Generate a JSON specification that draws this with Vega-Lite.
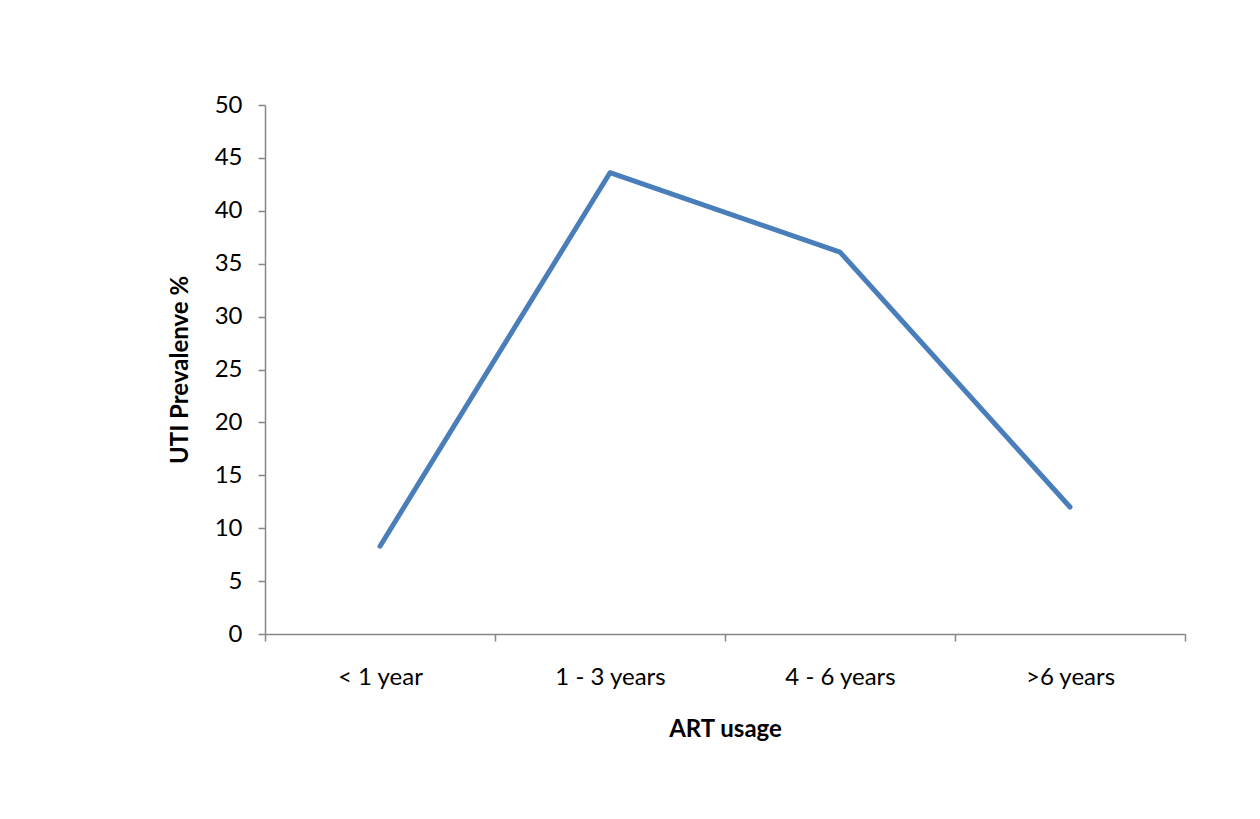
{
  "$schema": "https://vega.github.io/schema/vega-lite/v6.json",
  "width": 920,
  "height": 529,
  "autosize": {"type": "none"},
  "padding": {"left": 265, "top": 105, "right": 75, "bottom": 185},
  "background": "white",
  "data": {"values": [
    {"art": "< 1 year", "prev": 8.3},
    {"art": "1 - 3 years", "prev": 43.6},
    {"art": "4 - 6 years", "prev": 36.1},
    {"art": ">6 years", "prev": 12.0}
  ]},
  "mark": {"type": "line", "color": "#4a7ebb", "strokeWidth": 5, "strokeCap": "round", "strokeJoin": "round"},
  "encoding": {
    "x": {"field": "art", "type": "nominal", "sort": null,
      "scale": {"type": "band", "paddingInner": 0, "paddingOuter": 0},
      "axis": {"title": "ART usage", "labelAngle": 0, "tickBand": "extent", "labelPadding": 24, "titlePadding": 28}},
    "y": {"field": "prev", "type": "quantitative",
      "scale": {"domain": [0, 50], "nice": false},
      "axis": {"title": "UTI Prevalenve %", "values": [0,5,10,15,20,25,30,35,40,45,50], "labelPadding": 16, "titlePadding": 22}}
  },
  "config": {
    "view": {"stroke": null},
    "font": "Lato",
    "axis": {
      "grid": false,
      "domainColor": "#868686", "domainWidth": 1.5,
      "tickColor": "#868686", "tickWidth": 1.5, "tickSize": 7,
      "labelFont": "Lato", "labelFontSize": 24, "labelColor": "#000000",
      "titleFont": "Lato", "titleFontSize": 24, "titleFontWeight": "bold", "titleColor": "#000000"
    }
  }
}
